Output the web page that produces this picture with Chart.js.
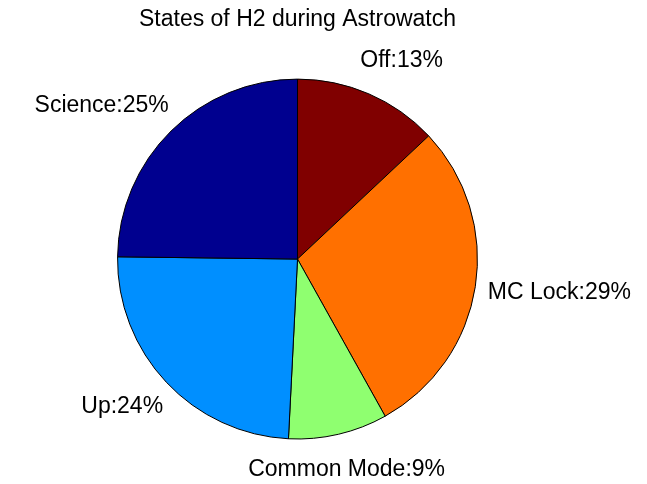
<!DOCTYPE html>
<html>
<head>
<meta charset="utf-8">
<script src="https://cdn.jsdelivr.net/npm/chart.js@4/dist/chart.umd.min.js"></script>
<style>
  html, body { margin: 0; padding: 0; background: #fff; }
  #wrap { width: 647px; height: 484px; }
</style>
</head>
<body>
<div id="wrap"><canvas id="pieChart"></canvas></div>
<script>
// slices, clockwise from 12 o'clock
const states = ['Off', 'MC Lock', 'Common Mode', 'Up', 'Science'];
const shares = [13.0, 28.9, 8.9, 24.4, 24.8];
const sliceColors = ['#800000', '#ff7000', '#8fff70', '#008fff', '#00008f'];

const FONT = '"Liberation Sans", Arial, Helvetica, sans-serif';

// MATLAB-like "Name:NN%" labels outside the pie
const pieLabels = {
    id: 'pieLabels',
    afterDatasetsDraw(chart) {
        const ctx = chart.ctx;
        const meta = chart.getDatasetMeta(0);
        const total = shares.reduce((a, b) => a + b, 0);
        ctx.save();
        ctx.font = '23px ' + FONT;
        ctx.fillStyle = '#000';
        ctx.textAlign = 'center';
        ctx.textBaseline = 'middle';
        meta.data.forEach((arc, i) => {
            const p = arc.getProps(['x', 'y', 'startAngle', 'endAngle', 'outerRadius'], true);
            const mid = (p.startAngle + p.endAngle) / 2;
            const pct = Math.round(shares[i] / total * 100) + '%';
            const text = states[i] + ':' + pct;
            const dx = Math.cos(mid), dy = Math.sin(mid);
            let x = p.x + 1.2 * p.outerRadius * dx;
            const y = p.y + 1.2 * p.outerRadius * dy;
            // push the longer label outwards by the extra width
            if (Math.abs(dx) > 0.3) {
                const extra = ctx.measureText(text).width - ctx.measureText(pct).width;
                x += Math.sign(dx) * extra / 2;
            }
            ctx.fillText(text, x, y);
        });
        ctx.restore();
    }
};

new Chart(document.getElementById('pieChart').getContext('2d'), {
    type: 'pie',
    data: {
        labels: states,
        datasets: [{
            data: shares,
            backgroundColor: sliceColors,
            borderColor: '#000',
            borderWidth: 1,
            hoverOffset: 0
        }]
    },
    options: {
        responsive: true,
        maintainAspectRatio: false,
        animation: false,
        events: [],
        layout: {
            padding: { left: 0, right: 52, top: 0, bottom: 44.5 }
        },
        plugins: {
            legend: { display: false },
            tooltip: { enabled: false },
            title: {
                display: true,
                text: 'States of H2 during Astrowatch',
                color: '#000',
                font: { family: FONT, size: 23, weight: 'normal' },
                padding: { top: 6, bottom: 45 }
            }
        }
    },
    plugins: [pieLabels]
});
</script>
</body>
</html>
